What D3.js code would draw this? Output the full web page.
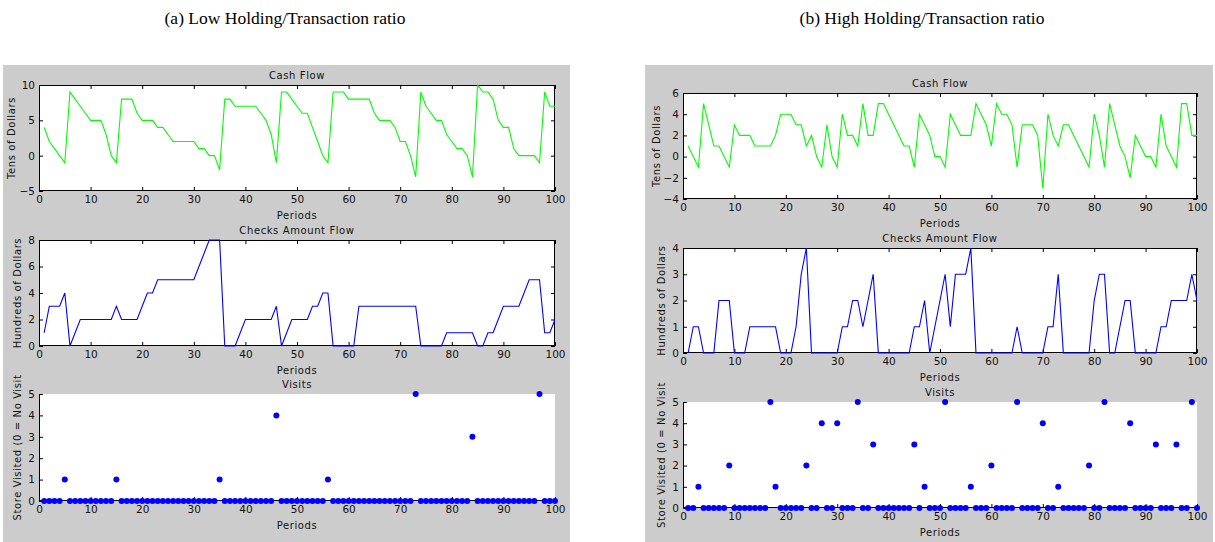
<!DOCTYPE html>
<html><head><meta charset="utf-8">
<script src="https://cdn.jsdelivr.net/npm/d3@7"></script>
<style>
body{margin:0;background:#fff}
svg text{font-family:"DejaVu Sans",sans-serif;font-size:10px;fill:#111}
svg text.lab{letter-spacing:0.6px}
svg text.head{font-family:"Liberation Serif",serif;font-size:17.5px;fill:#000;letter-spacing:0}
</style>
</head><body><svg id="c" width="1215" height="542"></svg>
<script>
const periods = d3.range(1, 101);
const xTicks = [0,10,20,30,40,50,60,70,80,90,100];

const cashLow = [4,2,1,0,-1,9,8,7,6,5, 5,5,3,0,-1,8,8,8,6,5, 5,5,4,4,3,2,2,2,2,2,
  1,1,0,0,-2,8,8,7,7,7, 7,7,6,5,3,-1,9,9,8,7, 6,6,4,2,0,-1,9,9,9,8,
  8,8,8,8,6,5,5,5,4,2, 2,0,-3,9,7,6,5,5,3,2, 1,1,0,-3,10,9,9,8,5,4, 4,1,0,0,0,0,-1,9,7,7];
const checksLow = [1,3,3,3,4,0,1,2,2,2, 2,2,2,2,3,2,2,2,2,3, 4,4,5,5,5,5,5,5,5,5,
  6,7,8,8,8,0,0,0,1,2, 2,2,2,2,2,3,0,1,2,2, 2,2,3,3,4,4,0,0,0,0,
  0,3,3,3,3,3,3,3,3,3, 3,3,3,0,0,0,0,0,1,1, 1,1,1,1,0,0,1,1,2,3, 3,3,3,4,5,5,5,1,1,2];
const visitsLow = [0,0,0,0,1,0,0,0,0,0, 0,0,0,0,1,0,0,0,0,0, 0,0,0,0,0,0,0,0,0,0,
  0,0,0,0,1,0,0,0,0,0, 0,0,0,0,0,4,0,0,0,0, 0,0,0,0,0,1,0,0,0,0,
  0,0,0,0,0,0,0,0,0,0, 0,0,5,0,0,0,0,0,0,0, 0,0,0,3,0,0,0,0,0,0, 0,0,0,0,0,0,5,0,0,0];

const cashHigh = [1,0,-1,5,3,1,1,0,-1,3, 2,2,2,1,1,1,1,2,4,4, 4,3,3,1,2,0,-1,3,0,-1,
  4,2,2,1,5,2,2,5,5,4, 3,2,1,1,-1,4,3,2,0,0, -1,4,3,2,2,2,5,4,3,1,
  5,4,4,3,-1,3,3,3,2,-3, 4,2,1,3,3,2,1,0,-1,4, 2,-1,5,3,1,0,-2,2,1,0, 0,-1,4,1,0,-1,5,5,2,2];
const checksHigh = [0,1,1,0,0,0,2,2,2,0, 0,0,1,1,1,1,1,1,0,0, 0,1,3,4,0,0,0,0,0,0,
  1,1,2,2,1,2,3,0,0,0, 0,0,0,0,1,1,2,0,1,2, 3,1,3,3,3,4,0,0,0,0,
  0,0,0,0,1,0,0,0,0,0, 1,1,3,0,0,0,0,0,0,2, 3,3,0,0,1,2,2,0,0,0, 0,0,1,1,2,2,2,2,3,2];
const visitsHigh = [0,0,1,0,0,0,0,0,2,0, 0,0,0,0,0,0,5,1,0,0, 0,0,0,2,0,0,4,0,0,4,
  0,0,0,5,0,0,3,0,0,0, 0,0,0,0,3,0,1,0,0,0, 5,0,0,0,0,1,0,0,0,2,
  0,0,0,0,5,0,0,0,0,4, 0,0,1,0,0,0,0,0,2,0, 0,5,0,0,0,0,4,0,0,0, 0,3,0,0,0,3,0,0,5,0];

const headings = ["(a) Low Holding/Transaction ratio", "(b) High Holding/Transaction ratio"];
const titles = ["Cash Flow", "Checks Amount Flow", "Visits"];
const yLabels = ["Tens of Dollars", "Hundreds of Dollars", "Store Visited (0 = No Visit"];
const xLabel = "Periods";
const cashTicksLow = [-5,0,5,10];
const checksTicksLow = [0,2,4,6,8];
const cashTicksHigh = [-4,-2,0,2,4,6];
const checksTicksHigh = [0,1,2,3,4];
const visitTicks = [0,1,2,3,4,5];

const svg = d3.select("#c");
const GRAY = "#cccccc";

const panels = [
  {bg:[3,65,567,477], hx:285, hy:24, heading:headings[0], left:39, right:555,
   plots:[
     {top:85, bottom:191, data:cashLow, domain:[-5,10], ticks:cashTicksLow, kind:"line", color:"#00ff00", ylx:12},
     {top:240, bottom:346, data:checksLow, domain:[0,8], ticks:checksTicksLow, kind:"line", color:"#0000ff", ylx:18},
     {top:394, bottom:501, data:visitsLow, domain:[0,5], ticks:visitTicks, kind:"dot", color:"#0000ff", ylx:18}
   ]},
  {bg:[645,65,568,477], hx:922, hy:24, heading:headings[1], left:683, right:1197,
   plots:[
     {top:93, bottom:199, data:cashHigh, domain:[-4,6], ticks:cashTicksHigh, kind:"line", color:"#00ff00", ylx:657},
     {top:248, bottom:353, data:checksHigh, domain:[0,4], ticks:checksTicksHigh, kind:"line", color:"#0000ff", ylx:662},
     {top:402, bottom:508, data:visitsHigh, domain:[0,5], ticks:visitTicks, kind:"dot", color:"#0000ff", ylx:662}
   ]}
];

panels.forEach((p, pi) => {
  svg.append("rect").attr("x",p.bg[0]).attr("y",p.bg[1]).attr("width",p.bg[2]).attr("height",p.bg[3]).attr("fill",GRAY);
  svg.append("text").attr("class","head").attr("x",p.hx).attr("y",p.hy).attr("text-anchor","middle").text(p.heading);
  p.plots.forEach((pl, k) => {
    const x = d3.scaleLinear().domain([0,100]).range([p.left,p.right]);
    const y = d3.scaleLinear().domain(pl.domain).range([pl.bottom,pl.top]);
    const g = svg.append("g");
    g.append("rect").attr("x",p.left).attr("y",pl.top).attr("width",p.right-p.left).attr("height",pl.bottom-pl.top).attr("fill","#fff");
    const clipId = "clip"+pi+"_"+k;
    g.append("clipPath").attr("id",clipId).append("rect").attr("x",p.left).attr("y",pl.top-1).attr("width",p.right-p.left).attr("height",pl.bottom-pl.top+2);

    const ax = g.append("g").attr("transform",`translate(0,${pl.bottom})`)
      .call(d3.axisBottom(x).tickValues(xTicks).tickSizeInner(-4).tickSizeOuter(0).tickPadding(5).tickFormat(d3.format("d")));
    const ay = g.append("g").attr("transform",`translate(${p.left},0)`)
      .call(d3.axisLeft(y).tickValues(pl.ticks).tickSizeInner(-4).tickSizeOuter(0).tickPadding(4).tickFormat(d3.format("d")));
    [ax, ay].forEach(a => { a.select(".domain").remove(); a.selectAll("text").style("font-size","10.5px").style("font-family","DejaVu Sans").attr("fill","#111"); a.selectAll("line").attr("stroke","#000"); });
    ax.selectAll("text").attr("dy","0.71em");

    if (pl.kind === "line") {
      const at = g.append("g").attr("transform",`translate(0,${pl.top})`)
        .call(d3.axisTop(x).tickValues(xTicks).tickSizeInner(-4).tickSizeOuter(0).tickFormat(""));
      const ar = g.append("g").attr("transform",`translate(${p.right},0)`)
        .call(d3.axisRight(y).tickValues(pl.ticks).tickSizeInner(-4).tickSizeOuter(0).tickFormat(""));
      [at, ar].forEach(a => a.select(".domain").remove());
      g.append("rect").attr("x",p.left+0.5).attr("y",pl.top+0.5).attr("width",p.right-p.left-1).attr("height",pl.bottom-pl.top-1)
        .attr("fill","none").attr("stroke","#000").attr("stroke-width",1);
      const line = d3.line().x((d,i)=>x(periods[i])).y(d=>y(d));
      g.append("path").datum(pl.data).attr("d",line).attr("fill","none").attr("stroke",pl.color)
        .attr("stroke-width",1.1).attr("clip-path",`url(#${clipId})`);
    } else {
      g.append("line").attr("x1",p.left+0.5).attr("x2",p.left+0.5).attr("y1",pl.top).attr("y2",pl.bottom).attr("stroke","#000");
      g.append("line").attr("x1",p.left).attr("x2",p.right).attr("y1",pl.bottom-0.5).attr("y2",pl.bottom-0.5).attr("stroke","#000");
      g.selectAll("circle.m").data(pl.data).join("circle").attr("class","m")
        .attr("cx",(d,i)=>x(periods[i])).attr("cy",d=>y(d)).attr("r",3).attr("fill",pl.color);
    }
    const cx = (p.left+p.right)/2;
    g.append("text").attr("class","lab").attr("x",cx).attr("y",pl.top-6).attr("text-anchor","middle").text(titles[k]);
    g.append("text").attr("class","lab").attr("x",cx).attr("y",pl.bottom+28).attr("text-anchor","middle").text(xLabel);
    const cy = (pl.top+pl.bottom)/2;
    g.append("text").attr("class","lab").attr("transform",`translate(${pl.ylx+3},${cy}) rotate(-90)`).attr("text-anchor","middle").text(yLabels[k]);
  });
});
</script>
</body></html>
